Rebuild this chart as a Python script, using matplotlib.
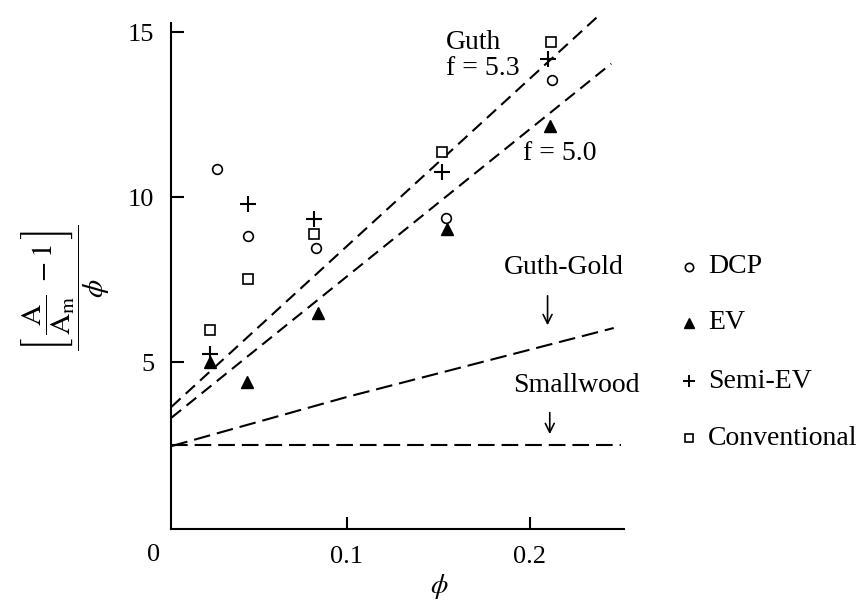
import matplotlib
matplotlib.use("Agg")
import matplotlib.pyplot as plt

plt.rcParams['font.family'] = ['Liberation Serif', 'DejaVu Serif']
plt.rcParams['mathtext.fontset'] = 'stix'
plt.rcParams['lines.scale_dashes'] = False

# data
phi_dcp = [0.029, 0.046, 0.083, 0.154, 0.212]
dcp = [10.85, 8.83, 8.45, 9.38, 13.55]
phi_ev = [0.025, 0.0455, 0.084, 0.155, 0.211]
ev = [5.0, 4.40, 6.5, 9.05, 12.16]
phi_semi = [0.025, 0.046, 0.082, 0.152, 0.210]
semi = [5.24, 9.8, 9.35, 10.77, 14.2]
phi_conv = [0.025, 0.046, 0.082, 0.152, 0.2115]
conv = [5.99, 7.53, 8.88, 11.37, 14.7]

# theory curves
phi_guth53 = [0.004, 0.239]
guth53 = [3.65, 15.57]
phi_guth50 = [0.004, 0.2446]
guth50 = [3.32, 14.05]
phi_gg = [0.004, 0.10, 0.246]
guth_gold = [2.46, 3.95, 6.04]
phi_sw = [0.004, 0.25]
smallwood = [2.48, 2.48]

series_names = ['DCP', 'EV', 'Semi-EV', 'Conventional']
legend_y = [7.9, 6.2, 4.42, 2.7]

fig = plt.figure(figsize=(8.64, 6.04), dpi=100)
ax = fig.add_axes([0.1979, 0.1242, 0.5243, 0.8605])

ax.plot(phi_guth53, guth53, color='black', lw=1.5, dashes=(9, 5))
ax.plot(phi_guth50, guth50, color='black', lw=1.5, dashes=(9, 5))
ax.plot(phi_gg, guth_gold, color='black', lw=1.5, dashes=(12, 5))
ax.plot(phi_sw, smallwood, color='black', lw=1.5, dashes=(12, 5))

ax.plot(phi_dcp, dcp, ls='none', marker='o', ms=7, mfc='white', mec='black', mew=1.2)
ax.plot(phi_ev, ev, ls='none', marker='^', ms=9, mfc='black', mec='black')
ax.plot(phi_semi, semi, ls='none', marker='+', ms=11, mec='black', mew=1.5)
ax.plot(phi_conv, conv, ls='none', marker='s', ms=7, mfc='white', mec='black', mew=1.2)

# legend at right, outside the axes
styles = [dict(marker='o', ms=6, mfc='white', mec='black', mew=1.2),
          dict(marker='^', ms=7, mfc='black', mec='black'),
          dict(marker='+', ms=8, mec='black', mew=1.4),
          dict(marker='s', ms=6, mfc='white', mec='black', mew=1.2)]
for name, yy, st in zip(series_names, legend_y, styles):
    ax.plot([0.2874], [yy], ls='none', clip_on=False, **st)
    ax.text(0.2975, yy, name, fontsize=20, ha='left', va='center')

ax.text(0.154, 14.7, 'Guth', fontsize=20, ha='left', va='center')
ax.text(0.154, 13.9, 'f = 5.3', fontsize=20, ha='left', va='center')
ax.text(0.1965, 11.34, 'f = 5.0', fontsize=20, ha='left', va='center')
ax.text(0.1858, 7.86, 'Guth-Gold', fontsize=20, ha='left', va='center')
ax.text(0.1912, 4.31, 'Smallwood', fontsize=20, ha='left', va='center')
ax.annotate('', xy=(0.2098, 6.04), xytext=(0.2098, 7.1),
            arrowprops=dict(arrowstyle='->', lw=1.2, mutation_scale=16))
ax.annotate('', xy=(0.211, 2.74), xytext=(0.211, 3.56),
            arrowprops=dict(arrowstyle='->', lw=1.2, mutation_scale=16))

ax.set_xlim(0.0038, 0.2516)
ax.set_ylim(-0.05, 15.7)
ax.spines['top'].set_visible(False)
ax.spines['right'].set_visible(False)
ax.spines['left'].set_bounds(-0.05, 15.27)
for s in ['left', 'bottom']:
    ax.spines[s].set_linewidth(1.5)

ax.set_xticks([0.1, 0.2])
ax.set_xticklabels(['0.1', '0.2'])
ax.set_yticks([5, 10, 15])
ax.set_yticklabels(['5', '10', '15'])
ax.tick_params(direction='in', length=9, width=1.5, labelsize=19, pad=12)
ax.text(-0.006, -0.84, '0', fontsize=19, ha='center', va='center', clip_on=False)

fig.text(0.508, 0.029, r'$\phi$', fontsize=20, ha='center', va='center')
fig.text(0.076, 0.523, r'$\dfrac{\left[\,\dfrac{\mathrm{A}}{\mathrm{A_m}}\ -1\,\right]}{\phi}$',
         fontsize=21, rotation=90, ha='center', va='center')

fig.savefig('out.png', dpi=100)
